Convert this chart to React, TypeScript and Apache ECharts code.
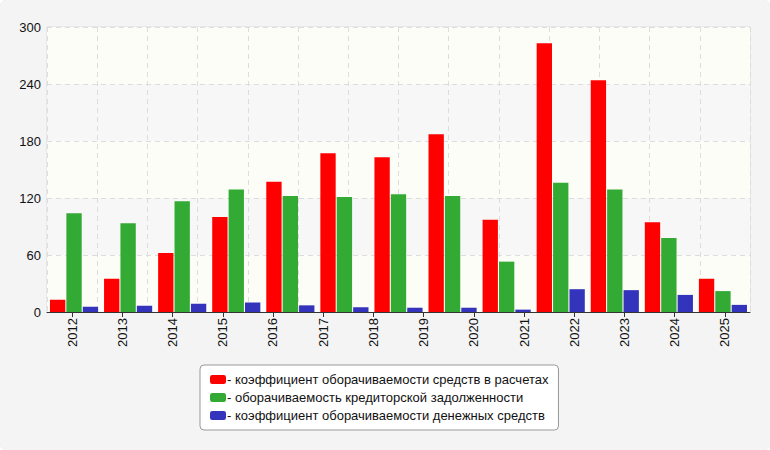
import { useEffect, useRef } from 'react'
import * as echarts from 'echarts'

const years = ['2012', '2013', '2014', '2015', '2016', '2017', '2018', '2019', '2020', '2021', '2022', '2023', '2024', '2025']
const groups = ['1', '2', '3', '4', '5', '6', '7', '8', '9', '10', '11', '12', '13']
const settlements = [13, 35, 62, 100, 137, 167, 163, 187, 97, 283, 244, 94.5, 35]
const payables = [104, 93.5, 116.5, 129, 122, 121, 124, 122, 53, 136, 129, 78, 22]
const cash = [5.6, 6.6, 8.7, 10, 7, 5, 4.5, 4.5, 2.5, 24, 23, 18, 7.5]
const names = [
  'коэффициент оборачиваемости средств в расчетах',
  'оборачиваемость кредиторской задолженности',
  'коэффициент оборачиваемости денежных средств',
]

export default function App() {
  const ref = useRef<HTMLDivElement>(null)

  useEffect(() => {
    if (!ref.current) return
    const chart = echarts.init(ref.current, null, { renderer: 'svg' })
    const font = 'Arial, "Liberation Sans", sans-serif'
    const bar = (name: string, data: number[], color: string) => ({
      type: 'bar', name, data, xAxisIndex: 0,
      barGap: '7%', barCategoryGap: '11%',
      itemStyle: { color },
    })
    chart.setOption({
      animation: false,
      backgroundColor: '#f4f4f4',
      textStyle: { fontFamily: font },
      grid: { left: 47, right: 20, top: 27, bottom: 138, show: true, borderColor: '#dddddd', backgroundColor: '#fdfdf7' },
      xAxis: [
        { type: 'category', data: groups, show: false },
        {
          type: 'category', data: years, position: 'bottom',
          axisLine: { lineStyle: { color: '#333' } },
          axisTick: { show: true, alignWithLabel: true, lineStyle: { color: '#333' } },
          axisLabel: { rotate: 90, color: '#111', fontSize: 13, interval: 0, margin: 6 },
          splitLine: { show: true, lineStyle: { color: '#dddddd', type: [5, 4] } },
        },
      ],
      yAxis: {
        type: 'value', min: 0, max: 300, interval: 60,
        axisLine: { show: false }, axisTick: { show: false },
        axisLabel: { color: '#111', fontSize: 13, margin: 6 },
        splitLine: { lineStyle: { color: '#dddddd', type: [5, 4] } },
        splitArea: { show: true, areaStyle: { color: ['#fdfdf7', '#f7f7f7'] } },
      },
      legend: {
        orient: 'vertical', left: 200, top: 365,
        padding: [8, 10, 8, 10], itemGap: 5,
        backgroundColor: '#fff', borderColor: '#999', borderWidth: 1, borderRadius: 4,
        itemWidth: 16, itemHeight: 9, icon: 'roundRect',
        formatter: (n: string) => '- ' + n,
        textStyle: { fontSize: 13, color: '#111', padding: [0, 0, 0, -4] },
      },
      series: [
        bar(names[0], settlements, '#ff0000'),
        bar(names[1], payables, '#33aa33'),
        bar(names[2], cash, '#3333bb'),
      ],
    })
    return () => chart.dispose()
  }, [])

  return (
    <div style={{ position: 'absolute', left: 0, top: 0, width: 770, height: 450, borderRadius: 6, overflow: 'hidden', boxShadow: 'inset 0 0 0 1px #ddd' }}>
      <div ref={ref} style={{ width: 770, height: 450 }} />
    </div>
  )
}
